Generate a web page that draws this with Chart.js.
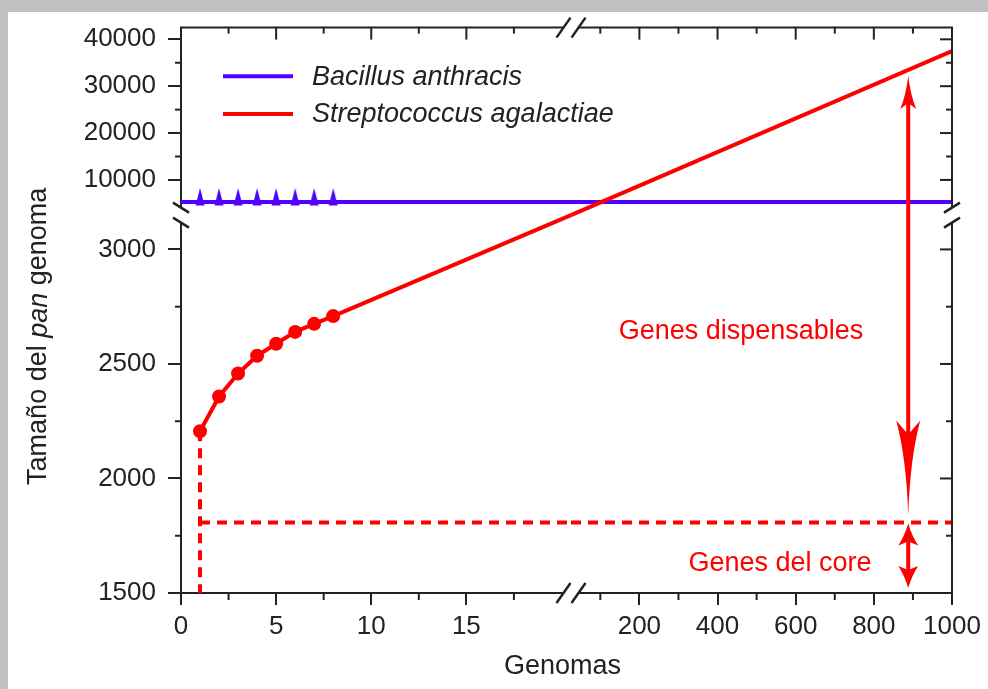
<!DOCTYPE html>
<html>
<head>
<meta charset="utf-8">
<title>Tamaño del pan genoma</title>
<script src="https://cdn.jsdelivr.net/npm/chart.js@4.4.1/dist/chart.umd.min.js"></script>
<style>
  html, body { margin: 0; padding: 0; background: #c0c0c0; }
  #panChart { display: block; }
</style>
</head>
<body>
<canvas id="panChart" width="988" height="689"></canvas>
<script>
// genomas secuenciados
const genomes = [1, 2, 3, 4, 5, 6, 7, 8];
// tamaño del pan genoma observado
const bacillusPan = [5300, 5300, 5300, 5300, 5300, 5300, 5300, 5300];
const streptoPan = [2206, 2358, 2458, 2536, 2588, 2640, 2675, 2709];
// extrapolación de S. agalactiae a 1000 genomas
const streptoAt1000 = 37500;
const coreGenome = 1808;
const arrowGenomes = 888;

// tramos de los ejes partidos
const X_LOW = [0, 20.5];
const X_HIGH = [25, 1000];
const Y_LOW = [1500, 3150];
const Y_HIGH = [2500, 42500];

const xLowTicks = [0, 5, 10, 15];
const xLowMinor = [2.5, 7.5, 12.5, 17.5];
const xHighTicks = [200, 400, 600, 800, 1000];
const xHighMinor = [100, 300, 500, 700, 900];
const yLowTicks = [1500, 2000, 2500, 3000];
const yLowMinor = [1750, 2250, 2750];
const yHighTicks = [10000, 20000, 30000, 40000];
const yHighMinor = [15000, 25000, 35000];

const FONT = "'Liberation Sans', Arial, Helvetica, sans-serif";
const INK = '#222222';
const BLUE = '#5000ff';
const RED = '#ff0000';

Chart.defaults.font.family = FONT;
Chart.defaults.font.size = 26;
Chart.defaults.color = INK;

const pts = (xs, ys) => xs.map((x, i) => ({ x, y: ys[i] }));
const last = arr => arr[arr.length - 1];

function triangleMarker(color) {
  const c = document.createElement('canvas');
  c.width = 12;
  c.height = 30;
  const g = c.getContext('2d');
  g.fillStyle = color;
  g.beginPath();
  g.moveTo(6, 1);
  g.lineTo(10.5, 18.5);
  g.lineTo(1.5, 18.5);
  g.closePath();
  g.fill();
  return c;
}

function fixedTicks(values) {
  return scale => { scale.ticks = values.map(v => ({ value: v })); };
}

function axis(position, stack, weight, stackWeight, range, ticks, size) {
  const horizontal = position === 'bottom';
  return {
    type: 'linear',
    position,
    stack,
    weight,
    stackWeight,
    clip: false,
    bounds: 'data',
    min: range[0],
    max: range[1],
    afterBuildTicks: fixedTicks(ticks),
    afterFit: s => { if (horizontal) s.height = size; else s.width = size; },
    grid: { drawOnChartArea: false, tickLength: horizontal ? 12 : 13, color: INK, lineWidth: 2 },
    border: { color: INK, width: 2 },
    ticks: {
      padding: horizontal ? 6 : 12,
      color: INK,
      autoSkip: false,
      maxRotation: 0,
      callback: v => String(v)
    }
  };
}

const lineStyle = (color, extra) => Object.assign({
  borderColor: color,
  backgroundColor: color,
  borderWidth: 4,
  pointRadius: 0,
  tension: 0,
  fill: false
}, extra);

const datasets = [
  lineStyle(BLUE, {
    label: 'Bacillus anthracis',
    xAxisID: 'xLow', yAxisID: 'yHigh',
    data: pts(genomes, bacillusPan),
    showLine: false,
    pointRadius: 6,
    pointStyle: triangleMarker(BLUE)
  }),
  lineStyle(RED, {
    label: 'Streptococcus agalactiae',
    xAxisID: 'xLow', yAxisID: 'yLow',
    data: pts(genomes, streptoPan),
    pointRadius: 5,
    pointStyle: 'circle'
  }),
  // tendencia: cruza la esquina de ambos cortes
  lineStyle(RED, {
    xAxisID: 'xLow', yAxisID: 'yLow',
    data: [{ x: last(genomes), y: last(streptoPan) }, { x: X_LOW[1], y: Y_LOW[1] }]
  }),
  lineStyle(RED, {
    xAxisID: 'xHigh', yAxisID: 'yHigh',
    data: [{ x: X_HIGH[0], y: Y_HIGH[0] }, { x: X_HIGH[1], y: streptoAt1000 }]
  }),
  lineStyle(BLUE, {
    xAxisID: 'xLow', yAxisID: 'yHigh',
    data: [{ x: X_LOW[0], y: last(bacillusPan) }, { x: X_LOW[1], y: last(bacillusPan) }]
  }),
  lineStyle(BLUE, {
    xAxisID: 'xHigh', yAxisID: 'yHigh',
    data: [{ x: X_HIGH[0], y: last(bacillusPan) }, { x: X_HIGH[1], y: last(bacillusPan) }]
  }),
  // genoma core
  lineStyle(RED, {
    xAxisID: 'xLow', yAxisID: 'yLow',
    borderDash: [10, 7],
    data: [{ x: genomes[0], y: streptoPan[0] }, { x: genomes[0], y: Y_LOW[0] }]
  }),
  lineStyle(RED, {
    xAxisID: 'xLow', yAxisID: 'yLow',
    borderDash: [10, 7],
    data: [{ x: genomes[0], y: coreGenome }, { x: X_LOW[1], y: coreGenome }]
  }),
  lineStyle(RED, {
    xAxisID: 'xHigh', yAxisID: 'yLow',
    borderDash: [10, 7],
    data: [{ x: X_HIGH[0], y: coreGenome }, { x: X_HIGH[1], y: coreGenome }]
  })
];

function seg(ctx, x1, y1, x2, y2) {
  ctx.beginPath();
  ctx.moveTo(x1, y1);
  ctx.lineTo(x2, y2);
  ctx.stroke();
}

// punta de flecha, dir = -1 hacia arriba, +1 hacia abajo
function arrowHead(ctx, x, tipY, dir, len, halfW, notch, bend) {
  const baseY = tipY - dir * len;
  ctx.beginPath();
  ctx.moveTo(x, tipY);
  ctx.quadraticCurveTo(x - halfW * bend, tipY - dir * len * 0.6, x - halfW, baseY);
  ctx.lineTo(x, baseY + dir * notch);
  ctx.lineTo(x + halfW, baseY);
  ctx.quadraticCurveTo(x + halfW * bend, tipY - dir * len * 0.6, x, tipY);
  ctx.closePath();
  ctx.fill();
}

function doubleArrow(ctx, x, top, bottom, upHead, downHead) {
  ctx.lineWidth = 4;
  seg(ctx, x, top + upHead[0] - upHead[2], x, bottom - downHead[0] + downHead[2]);
  arrowHead(ctx, x, top, -1, ...upHead);
  arrowHead(ctx, x, bottom, 1, ...downHead);
}

const panPlugin = {
  id: 'panPlugin',
  beforeDraw(chart) {
    const { ctx, width, height } = chart;
    ctx.save();
    ctx.fillStyle = '#ffffff';
    ctx.fillRect(0, 0, width, height);
    ctx.fillStyle = '#c0c0c0';
    ctx.fillRect(0, 0, width, 12);
    ctx.fillRect(0, 0, 8, height);
    ctx.restore();
  },
  afterDraw(chart) {
    const { ctx, chartArea: a, scales: s } = chart;
    ctx.save();
    ctx.strokeStyle = INK;
    ctx.lineWidth = 2;
    ctx.lineCap = 'butt';

    // marco superior y derecho
    seg(ctx, a.left - 1, a.top, a.right + 1, a.top);
    seg(ctx, a.right, a.top, a.right, a.bottom + 1);

    [[s.xLow, xLowTicks, xLowMinor], [s.xHigh, xHighTicks, xHighMinor]].forEach(([sc, major, minor]) => {
      major.forEach(v => { const x = sc.getPixelForValue(v); seg(ctx, x, a.top, x, a.top + 12); });
      minor.forEach(v => {
        const x = sc.getPixelForValue(v);
        seg(ctx, x, a.top, x, a.top + 6);
        seg(ctx, x, a.bottom, x, a.bottom + 7);
      });
    });
    [[s.yLow, yLowTicks, yLowMinor], [s.yHigh, yHighTicks, yHighMinor]].forEach(([sc, major, minor]) => {
      major.forEach(v => { const y = sc.getPixelForValue(v); seg(ctx, a.right - 12, y, a.right, y); });
      minor.forEach(v => {
        const y = sc.getPixelForValue(v);
        seg(ctx, a.right - 6, y, a.right, y);
        seg(ctx, a.left - 6, y, a.left, y);
      });
    });

    // marcas de corte
    const bx = s.xLow.right;
    const by = s.yHigh.bottom;
    ctx.fillStyle = '#ffffff';
    ctx.fillRect(bx - 7, a.top - 2, 15, 5);
    ctx.fillRect(bx - 7, a.bottom - 2, 15, 5);
    ctx.fillRect(a.left - 2, by - 7, 5, 15);
    ctx.fillRect(a.right - 2, by - 7, 5, 15);
    ctx.lineWidth = 2.5;
    [-7.5, 7.5].forEach(o => {
      seg(ctx, bx + o - 7, a.top + 10, bx + o + 7, a.top - 10);
      seg(ctx, bx + o - 7, a.bottom + 10, bx + o + 7, a.bottom - 10);
      seg(ctx, a.left - 8, by + o - 5, a.left + 8, by + o + 5);
      seg(ctx, a.right - 8, by + o + 5, a.right + 8, by + o - 5);
    });

    // flechas: genes dispensables y genes del core
    ctx.fillStyle = RED;
    ctx.strokeStyle = RED;
    const ax = s.xHigh.getPixelForValue(arrowGenomes);
    const t = (arrowGenomes - X_HIGH[0]) / (X_HIGH[1] - X_HIGH[0]);
    const trendY = s.yHigh.getPixelForValue(Y_HIGH[0] + t * (streptoAt1000 - Y_HIGH[0]));
    const coreY = s.yLow.getPixelForValue(coreGenome);
    const floorY = s.yLow.getPixelForValue(Y_LOW[0]);
    doubleArrow(ctx, ax, trendY + 6, coreY - 7, [33, 8, 6, 0.3], [95, 12, 14, 0.15]);
    doubleArrow(ctx, ax, coreY + 1, floorY - 5, [22, 10, 4, 0.4], [22, 10, 4, 0.4]);

    ctx.font = `27px ${FONT}`;
    ctx.textAlign = 'center';
    ctx.textBaseline = 'middle';
    ctx.fillText('Genes dispensables', s.xHigh.getPixelForValue(460), s.yLow.getPixelForValue(2640));
    ctx.fillText('Genes del core', s.xHigh.getPixelForValue(560), s.yLow.getPixelForValue(1630));

    // leyenda
    chart.data.datasets.filter(d => d.label).forEach((d, i) => {
      const y = a.top + 48.7 + i * 37.6;
      ctx.strokeStyle = d.borderColor;
      ctx.lineWidth = 4;
      seg(ctx, a.left + 42, y, a.left + 112, y);
      ctx.fillStyle = INK;
      ctx.textAlign = 'left';
      ctx.font = `italic 27px ${FONT}`;
      ctx.fillText(d.label, a.left + 131, y + 1);
    });

    // títulos de los ejes
    ctx.fillStyle = INK;
    ctx.textAlign = 'center';
    ctx.font = `27px ${FONT}`;
    ctx.fillText('Genomas', (a.left + a.right) / 2 - 4, a.bottom + 74);

    ctx.translate(a.left - 142, (a.top + a.bottom) / 2 + 26);
    ctx.rotate(-Math.PI / 2);
    const parts = [['Tamaño del ', ''], ['pan', 'italic '], [' genoma', '']];
    const widths = parts.map(([txt, st]) => { ctx.font = `${st}27px ${FONT}`; return ctx.measureText(txt).width; });
    let x = -widths.reduce((p, w) => p + w, 0) / 2;
    ctx.textAlign = 'left';
    parts.forEach(([txt, st], i) => {
      ctx.font = `${st}27px ${FONT}`;
      ctx.fillText(txt, x, 0);
      x += widths[i];
    });
    ctx.restore();
  }
};

new Chart(document.getElementById('panChart'), {
  type: 'line',
  data: { datasets },
  options: {
    responsive: false,
    animation: false,
    devicePixelRatio: 1,
    events: [],
    layout: { padding: { left: 0, top: 23, right: 36, bottom: 0 } },
    scales: {
      yHigh: axis('left', 'pan', 1, 189, Y_HIGH, yHighTicks, 181),
      yLow: axis('left', 'pan', 0, 381, Y_LOW, yLowTicks, 181),
      xLow: axis('bottom', 'genomas', 0, 390, X_LOW, xLowTicks, 96),
      xHigh: axis('bottom', 'genomas', 1, 381, X_HIGH, xHighTicks, 96)
    },
    plugins: {
      legend: { display: false },
      tooltip: { enabled: false }
    }
  },
  plugins: [panPlugin]
});
</script>
</body>
</html>
